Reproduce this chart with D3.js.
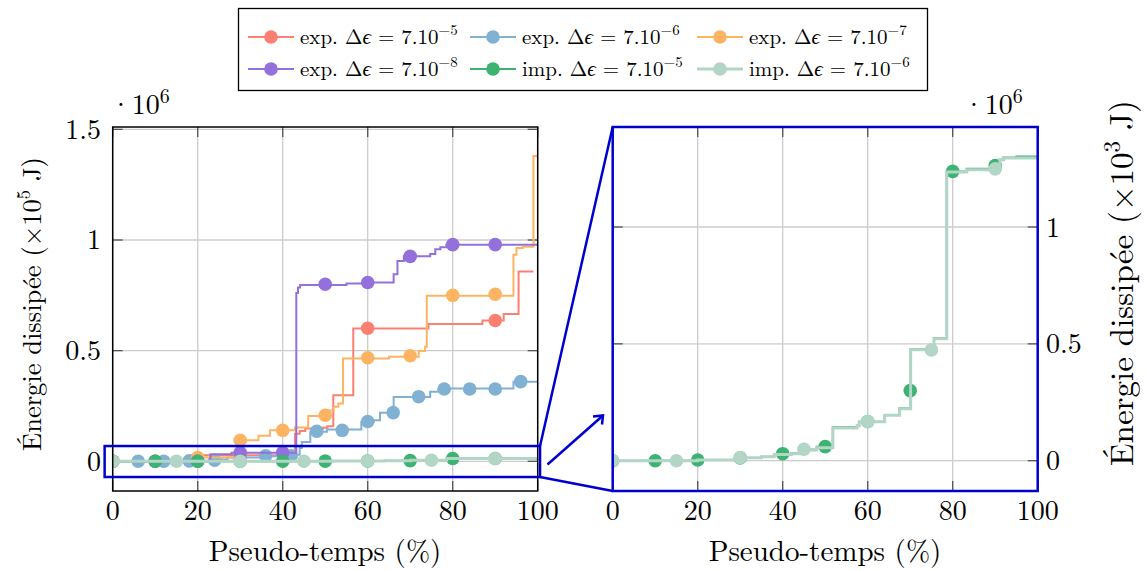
<!DOCTYPE html>
<html><head><meta charset="utf-8">
<script src="https://cdn.jsdelivr.net/npm/d3@7"></script>
<style>body{margin:0;background:#fff}svg{display:block}</style>
</head><body>
<script>
// ---------- DATA ----------
const xTicks = [0, 20, 40, 60, 80, 100];
const yTicksLeft = [0, 0.5, 1, 1.5];
const yTicksLeftLabels = ["0", "0.5", "1", "1.5"];
const yTicksRight = [0, 0.5, 1];
const yTicksRightLabels = ["0", "0.5", "1"];

const seriesNames = ["exp7e-5", "exp7e-6", "exp7e-7", "exp7e-8", "imp7e-5", "imp7e-6"];
const seriesExp = ["-5", "-6", "-7", "-8", "-5", "-6"];
const seriesKind = ["exp.", "exp.", "exp.", "exp.", "imp.", "imp."];
const seriesColors = ["#fb8072", "#80b1d3", "#fdb462", "#9370db", "#3cb371", "#b2d5c6"];

// step breakpoints [x (%), value] — exp series in left-axis units
const exp5Line = [[0,0],[18.6,0.027],[42.9,0.125],[44,0.137],[45.3,0.148],[49.5,0.152],[50.5,0.158],[51.9,0.299],[56.6,0.60],[74.3,0.62],[87,0.636],[92,0.666],[95.5,0.858],[99,0.858]];
const exp5Marks = [[0,0],[30,0.027],[60,0.601],[90,0.636]];

const exp6Line = [[0,0],[20,0.003],[24,0.008],[27,0.017],[35,0.023],[43.3,0.03],[44,0.06],[44.5,0.087],[46.5,0.133],[50.4,0.144],[58.5,0.178],[61.4,0.186],[62.9,0.219],[66.1,0.291],[74.7,0.314],[76.7,0.329],[94.3,0.36],[100,0.36]];
const exp6Marks = [[0,0],[6,0],[12,0],[18,0.002],[24,0.005],[30,0.017],[36,0.025],[42,0.025],[48,0.136],[54,0.14],[60,0.18],[66,0.22],[72,0.292],[78,0.327],[84,0.327],[90,0.327],[96,0.36]];

const exp7Line = [[0,0],[19.8,0.017],[29.2,0.095],[34.3,0.115],[37,0.14],[42.9,0.153],[46,0.205],[50.5,0.23],[52,0.246],[53.1,0.261],[54.2,0.465],[65,0.472],[72,0.498],[73.5,0.518],[73.9,0.748],[94.3,0.933],[95,0.964],[96.5,0.97],[99,1.379],[100,1.379]];
const exp7Marks = [[0,0],[10,0],[20,0.017],[30,0.095],[40,0.14],[50,0.208],[60,0.468],[70,0.477],[80,0.75],[90,0.755]];

const exp8Line = [[0,0],[23,0.032],[28,0.039],[43.2,0.76],[43.6,0.785],[44.1,0.797],[55,0.803],[60,0.808],[66.1,0.845],[67,0.905],[68.5,0.926],[74.7,0.937],[75.9,0.958],[77.1,0.967],[78.5,0.979],[100,0.979]];
const exp8Marks = [[0,0],[10,0],[20,0],[30,0.039],[40,0.039],[50,0.80],[60,0.808],[70,0.926],[80,0.979],[90,0.979]];

// imp series in right-axis units (x10^3 J); left axis shows them /100
const imp5Line = [[0,0],[20,0.003],[30,0.012],[35,0.017],[38,0.029],[42,0.032],[44,0.045],[48,0.06],[51.8,0.143],[57.5,0.15],[58,0.167],[64,0.196],[67.5,0.224],[70.1,0.477],[75.6,0.524],[78.6,1.238],[83.3,1.249],[89,1.263],[91.1,1.288],[91.9,1.298],[95,1.302],[100,1.302]];
const imp5Marks = [[0,0],[10,0],[20,0.003],[30,0.012],[40,0.03],[50,0.06],[60,0.168],[70,0.30],[80,1.238],[90,1.263]];

const imp6Line = [[0,0],[20,0.003],[30,0.013],[35,0.017],[38,0.027],[42,0.03],[44,0.048],[48,0.055],[51.8,0.14],[57.5,0.15],[58,0.167],[64,0.195],[67.5,0.222],[70.1,0.475],[75.6,0.522],[78.6,1.235],[83.3,1.245],[91.1,1.288],[92,1.295],[100,1.297]];
const imp6Marks = [[0,0],[15,0],[30,0.013],[45,0.049],[60,0.167],[75,0.474],[90,1.249]];

const lines = [exp5Line, exp6Line, exp7Line, exp8Line, imp5Line, imp6Line];
const marks = [exp5Marks, exp6Marks, exp7Marks, exp8Marks, imp5Marks, imp6Marks];
const leftFactor = [1, 1, 1, 1, 0.01, 0.01];
const zoomBox = {x0: -1.9, x1: 100.55, y0: -0.071, y1: 0.069};

// ---------- LAYOUT ----------
const W = 1147, H = 571;
const FONT = "'Latin Modern Roman','CMU Serif','Liberation Serif',serif";
const BLUE = "#0000cd";
const svg = d3.select("body").append("svg").attr("width", W).attr("height", H)
  .style("font-family", FONT);

const xL = d3.scaleLinear([0, 100], [112.7, 537.7]);
const yL = d3.scaleLinear([-0.1342, 1.5106], [491, 127]);
const xR = d3.scaleLinear([0, 100], [612.7, 1037.7]);
const yR = d3.scaleLinear([-0.1297, 1.428], [491, 127]);

function panel(id, x, y, yTicks, frameColor, frameWidth) {
  const g = svg.append("g");
  const [x0, x1] = x.range(), [y0, y1] = y.range();
  g.append("clipPath").attr("id", id).append("rect")
    .attr("x", x0).attr("y", y1).attr("width", x1 - x0).attr("height", y0 - y1);
  const grid = g.append("g").attr("stroke", "#cccccc").attr("stroke-width", 1.3);
  xTicks.forEach(t => grid.append("line").attr("x1", x(t)).attr("x2", x(t)).attr("y1", y0).attr("y2", y1));
  yTicks.forEach(t => grid.append("line").attr("y1", y(t)).attr("y2", y(t)).attr("x1", x0).attr("x2", x1));
  const tk = g.append("g").attr("stroke", "#555").attr("stroke-width", 1.3);
  const L = 10;
  xTicks.forEach(t => {
    tk.append("line").attr("x1", x(t)).attr("x2", x(t)).attr("y1", y0).attr("y2", y0 - L);
    tk.append("line").attr("x1", x(t)).attr("x2", x(t)).attr("y1", y1).attr("y2", y1 + L);
  });
  yTicks.forEach(t => {
    tk.append("line").attr("y1", y(t)).attr("y2", y(t)).attr("x1", x0).attr("x2", x0 + L);
    tk.append("line").attr("y1", y(t)).attr("y2", y(t)).attr("x1", x1).attr("x2", x1 - L);
  });
  const data = g.append("g").attr("clip-path", `url(#${id})`);
  return {g, data, frame: () => g.append("rect").attr("x", x0).attr("y", y1)
    .attr("width", x1 - x0).attr("height", y0 - y1).attr("fill", "none")
    .attr("stroke", frameColor).attr("stroke-width", frameWidth)};
}

function drawSeries(layer, x, y, idxs, factorArr) {
  idxs.forEach(i => {
    const f = factorArr ? factorArr[i] : 1;
    const line = d3.line().x(d => x(d[0])).y(d => y(d[1] * f)).curve(d3.curveStepAfter);
    layer.append("path").datum(lines[i]).attr("d", line).attr("fill", "none")
      .attr("stroke", seriesColors[i]).attr("stroke-width", i === 5 ? 3 : 2);
    layer.selectAll(null).data(marks[i]).join("circle")
      .attr("cx", d => x(d[0])).attr("cy", d => y(d[1] * f)).attr("r", 6.8)
      .attr("fill", seriesColors[i]);
  });
}

// Left panel
const pL = panel("clipL", xL, yL, yTicksLeft, "#000", 1.5);
drawSeries(pL.data, xL, yL, [0, 1, 2, 3, 4, 5], leftFactor);
pL.frame();

// Right panel
const pR = panel("clipR", xR, yR, yTicksRight, BLUE, 2.5);
drawSeries(pR.data, xR, yR, [4, 5], null);
pR.frame();

// Zoom box & connectors
const zb = svg.append("g").attr("stroke", BLUE).attr("stroke-width", 2.5).attr("fill", "none");
zb.append("rect").attr("x", xL(zoomBox.x0)).attr("y", yL(zoomBox.y1))
  .attr("width", xL(zoomBox.x1) - xL(zoomBox.x0)).attr("height", yL(zoomBox.y0) - yL(zoomBox.y1));
zb.append("line").attr("x1", xL(zoomBox.x1)).attr("y1", yL(zoomBox.y1)).attr("x2", xR.range()[0]).attr("y2", yR.range()[1]);
zb.append("line").attr("x1", xL(zoomBox.x1)).attr("y1", yL(zoomBox.y0)).attr("x2", xR.range()[0]).attr("y2", yR.range()[0]);
// arrow
const ax0 = 547.5, ay0 = 464.5, ax1 = 603, ay1 = 415.5;
zb.append("line").attr("x1", ax0).attr("y1", ay0).attr("x2", ax1).attr("y2", ay1);
zb.append("path").attr("d", `M${ax1 - 10},${ay1 + 1} L${ax1},${ay1} L${ax1 - 1},${ay1 + 9}`);

// Tick labels
const TF = 28;
const tl = svg.append("g").attr("font-size", TF).attr("fill", "#000");
[xL, xR].forEach(x => xTicks.forEach(t =>
  tl.append("text").attr("x", x(t)).attr("y", 520).attr("text-anchor", "middle").text(t)));
yTicksLeft.forEach((t, i) => tl.append("text").attr("x", 101).attr("y", yL(t) + 9.5)
  .attr("text-anchor", "end").text(yTicksLeftLabels[i]));
yTicksRight.forEach((t, i) => tl.append("text").attr("x", 1046).attr("y", yR(t) + 9.5)
  .attr("text-anchor", "start").text(yTicksRightLabels[i]));

// ·10^6 multipliers
function mult(x) {
  const t = tl.append("text").attr("x", x).attr("y", 114);
  t.append("tspan").text("·10");
  t.append("tspan").attr("dy", -11).attr("font-size", 20).text("6");
}
mult(110); mult(963);

// Axis labels
[325, 825].forEach(cx => tl.append("text").attr("x", cx).attr("y", 561)
  .attr("text-anchor", "middle").attr("font-size", 29).text("Pseudo-temps (%)"));
function ylabel(cx, cy, fs, e) {
  const t = svg.append("text").attr("transform", `translate(${cx},${cy}) rotate(-90)`)
    .attr("text-anchor", "middle").attr("font-size", fs);
  t.append("tspan").text("Énergie dissipée (×10");
  t.append("tspan").attr("dy", -fs * 0.4).attr("font-size", fs * 0.7).text(e);
  t.append("tspan").attr("dy", fs * 0.4).text(" J)");
}
ylabel(41, 304, 26.5, "5");
ylabel(1133, 283, 33, "3");

// Legend
const lg = svg.append("g");
lg.append("rect").attr("x", 238.5).attr("y", 8.5).attr("width", 689).attr("height", 82)
  .attr("fill", "#fff").attr("stroke", "#000").attr("stroke-width", 1.3);
const colX = [248, 470, 697];
const rowY = [37, 69];
seriesNames.forEach((n, i) => {
  const cx = colX[i % 3], cy = rowY[Math.floor(i / 3)];
  lg.append("line").attr("x1", cx).attr("x2", cx + 46).attr("y1", cy).attr("y2", cy)
    .attr("stroke", seriesColors[i]).attr("stroke-width", i === 5 ? 3 : 2);
  lg.append("circle").attr("cx", cx + 23).attr("cy", cy).attr("r", 6.8).attr("fill", seriesColors[i]);
  const t = lg.append("text").attr("x", cx + 52).attr("y", cy + 7).attr("font-size", 21);
  t.append("tspan").text(seriesKind[i] + " Δ");
  t.append("tspan").attr("font-style", "italic").text("ϵ");
  t.append("tspan").text(" = 7.10");
  t.append("tspan").attr("dy", -9).attr("font-size", 15).text("−" + seriesExp[i].slice(1));
});
</script>
</body></html>
